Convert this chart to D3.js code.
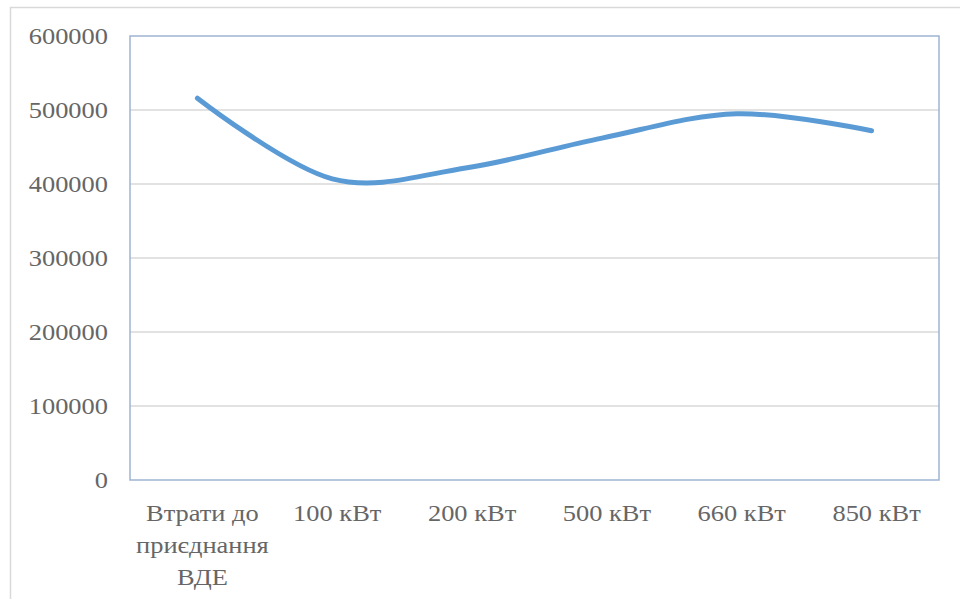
<!DOCTYPE html>
<html>
<head>
<meta charset="utf-8">
<script src="https://cdn.jsdelivr.net/npm/d3@7/dist/d3.min.js"></script>
<style>
  html, body { margin: 0; padding: 0; background: #ffffff; }
  svg { display: block; }
  svg text { font-family: "Liberation Serif", "Times New Roman", Times, serif; }
</style>
</head>
<body>
<svg id="chart" width="960" height="599"></svg>
<script>
// Categories (x axis), values of the single series, and y tick labels
const categories = [
  ["Втрати до", "приєднання", "ВДЕ"],
  ["100 кВт"],
  ["200 кВт"],
  ["500 кВт"],
  ["660 кВт"],
  ["850 кВт"]
];
const losses = [516000, 407000, 422000, 462000, 495000, 472000];
const yTicks = [0, 100000, 200000, 300000, 400000, 500000, 600000];

const W = 960, H = 599;
const plot = { left: 130, right: 939, top: 36, bottom: 480 };
const textColor = "#666666";
const stretch = 1.15; // labels are drawn slightly wide

const svg = d3.select("#chart");

// outer chart frame
svg.append("rect")
  .attr("x", 10.5).attr("y", 7.5)
  .attr("width", W + 20).attr("height", H + 20)
  .attr("fill", "#ffffff")
  .attr("stroke", "#d9d9d9")
  .attr("stroke-width", 1.5);

const x = d3.scalePoint()
  .domain(d3.range(categories.length))
  .range([plot.left, plot.right])
  .padding(0.5);

const y = d3.scaleLinear()
  .domain([0, 600000])
  .range([plot.bottom, plot.top]);

// horizontal gridlines
svg.append("g")
  .selectAll("line")
  .data(yTicks.filter(d => d > 0 && d < 600000))
  .join("line")
  .attr("x1", plot.left).attr("x2", plot.right)
  .attr("y1", d => y(d)).attr("y2", d => y(d))
  .attr("stroke", "#d9d9d9")
  .attr("stroke-width", 1.5);

// plot area border
svg.append("rect")
  .attr("x", plot.left).attr("y", plot.top)
  .attr("width", plot.right - plot.left)
  .attr("height", plot.bottom - plot.top)
  .attr("fill", "none")
  .attr("stroke", "#9db4d2")
  .attr("stroke-width", 1.5);

// y axis labels
const yAxis = d3.axisLeft(y)
  .tickValues(yTicks)
  .tickFormat(d3.format("d"))
  .tickSize(0)
  .tickPadding(0);

const yg = svg.append("g")
  .attr("transform", `translate(${plot.left - 22},0)`)
  .call(yAxis)
  .attr("font-family", null);
yg.select(".domain").remove();
yg.selectAll(".tick text")
  .attr("fill", textColor)
  .attr("font-size", 23)
  .attr("x", 0)
  .attr("dy", "0.34em")
  .attr("text-anchor", "end")
  .attr("transform", `scale(${stretch},1)`);

// x axis labels (multi-line for the first category)
const xg = svg.append("g");
categories.forEach((lines, i) => {
  const g = xg.append("g")
    .attr("transform", `translate(${x(i) + 5},521) scale(${stretch},1)`);
  g.selectAll("text")
    .data(lines)
    .join("text")
    .attr("x", 0)
    .attr("y", (d, j) => j * 32)
    .attr("text-anchor", "middle")
    .attr("fill", textColor)
    .attr("font-size", 23)
    .text(d => d);
});

// smoothed series line
const line = d3.line()
  .x((d, i) => x(i))
  .y(d => y(d))
  .curve(d3.curveCardinal.tension(0));

svg.append("path")
  .datum(losses)
  .attr("d", line)
  .attr("fill", "none")
  .attr("stroke", "#5b9bd5")
  .attr("stroke-width", 5)
  .attr("stroke-linecap", "round");
</script>
</body>
</html>
